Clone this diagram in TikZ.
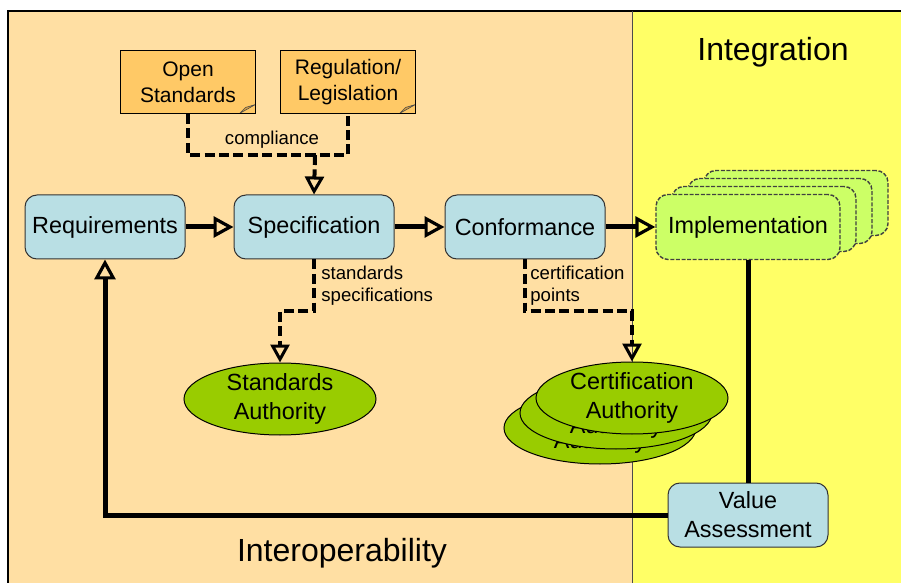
\documentclass[tikz,border=0pt]{standalone}
\usepackage{fontspec}
\setmainfont{Liberation Sans}
\usetikzlibrary{arrows.meta,positioning,shapes.geometric}
\definecolor{bgorange}{HTML}{FFDFA3}
\definecolor{bgyellow}{HTML}{FFFF66}
\definecolor{noteorange}{HTML}{FFC966}
\definecolor{folddark}{HTML}{D9A040}
\definecolor{procblue}{HTML}{B9DFE4}
\definecolor{authgreen}{HTML}{99CC00}
\definecolor{implgreen}{HTML}{CCFF66}
\tikzset{
process_box/.style={rectangle, rounded corners=6pt, draw=black!80, line width=0.5pt, fill=procblue, minimum width=80pt, minimum height=32pt, inner sep=1pt, align=center, font=\fontsize{11.7}{14.5}\selectfont},
impl_box/.style={rectangle, rounded corners=6pt, draw=black!75, line width=0.7pt, dash pattern=on 2pt off 0.8pt, fill=implgreen, minimum width=92pt, minimum height=32.5pt, font=\fontsize{11.7}{14.5}\selectfont},
note_box/.style={rectangle, draw=black, line width=0.5pt, fill=noteorange, minimum width=67.5pt, minimum height=31.5pt, inner sep=1pt, align=center, font=\fontsize{10.5}{13}\selectfont,
  path picture={\fill[folddark, draw=black!70, line width=0.3pt] ([xshift=-8pt]path picture bounding box.south east) -- ([yshift=4.5pt]path picture bounding box.south east) -- ([xshift=-5pt, yshift=3pt]path picture bounding box.south east) -- cycle;}},
authority/.style={ellipse, draw=black, line width=0.5pt, fill=authgreen, minimum width=96pt, minimum height=36pt, inner sep=0pt, align=center, font=\fontsize{11.7}{14.5}\selectfont},
small_label/.style={inner sep=1pt, align=left, font=\fontsize{9.3}{11}\selectfont},
region_label/.style={inner sep=0pt, font=\fontsize{16}{19}\selectfont},
flow_line/.style={line width=2.5pt},
flow_arrow/.style={line width=2.5pt, -{Triangle[open, length=10pt, width=10.5pt, line width=1.6pt]}},
dash_line/.style={line width=2pt, dash pattern=on 5pt off 2.2pt},
dash_arrow/.style={dash_line, -{Triangle[open, length=9pt, width=9.5pt, line width=1.5pt]}}
}

\begin{document}
\begin{tikzpicture}[x=0.5pt, y=-0.5pt]
    \useasboundingbox (0,0) rectangle (901,583);
    % backgrounds
    \fill[bgorange] (8,11) rectangle (632,583);
    \fill[bgyellow] (632,11) rectangle (901,583);
    \draw[line width=0.6pt] (901,11) -- (8,11) -- (8,583);
    \draw[line width=0.4pt, black!70] (632,11) -- (632,583);
    \node[region_label] (integ) at (773,52) {Integration};
    \node[region_label] (interop) at (342,553) {Interoperability};

    % main chain
    \node[process_box] (req) at (105,227) {Requirements};
    \node[process_box] (spec) at (314,227) {Specification};
    \node[process_box] (conf) at (525,227) {Conformance};
    \foreach \k in {3,2,1}
        \node[impl_box] (impl_back\k) at (748+16*\k, 227-8*\k) {};
    \node[impl_box] (impl) at (748,227) {Implementation};
    \node[process_box] (valassess) at (748,515) {Value\\Assessment};

    % sources
    \node[note_box] (openstd) at (188,82) {Open\\Standards};
    \node[note_box] (reglaw) at (348,82) {Regulation/\\Legislation};
    \coordinate (compl) at (315,155);

    % authorities
    \node[authority] (stdauth) at (280,399) {Standards\\Authority};
    \foreach \k in {2,1}
        \node[authority] (certauth_back\k) at (632-16*\k, 398+15*\k) {Certification\\Authority};
    \node[authority] (certauth) at (632,398) {Certification\\Authority};

    % connectors
    \draw[flow_arrow] (req) -- (spec);
    \draw[flow_arrow] (spec) -- (conf);
    \draw[flow_arrow] (conf) -- (impl);
    \draw[flow_line] (impl.south) -- (valassess.north);
    \draw[flow_arrow] (valassess.west) -| (req.south);
    \draw[dash_line] (openstd.south) |- (compl) -| (reglaw.south);
    \draw[dash_arrow] (compl) -- (spec.north);
    \draw[dash_arrow] (spec.south) -- ++(0,52) -| (stdauth.north);
    \draw[dash_arrow] (conf.south) -- ++(0,52) -| (certauth.north);

    \node[small_label] (lbl_compl) at (272,140) {compliance};
    \node[small_label, anchor=west] (lbl_specs) at (319,286) {standards\\specifications};
    \node[small_label, anchor=west] (lbl_cert) at (528,286) {certification\\points};
\end{tikzpicture}
\end{document}
